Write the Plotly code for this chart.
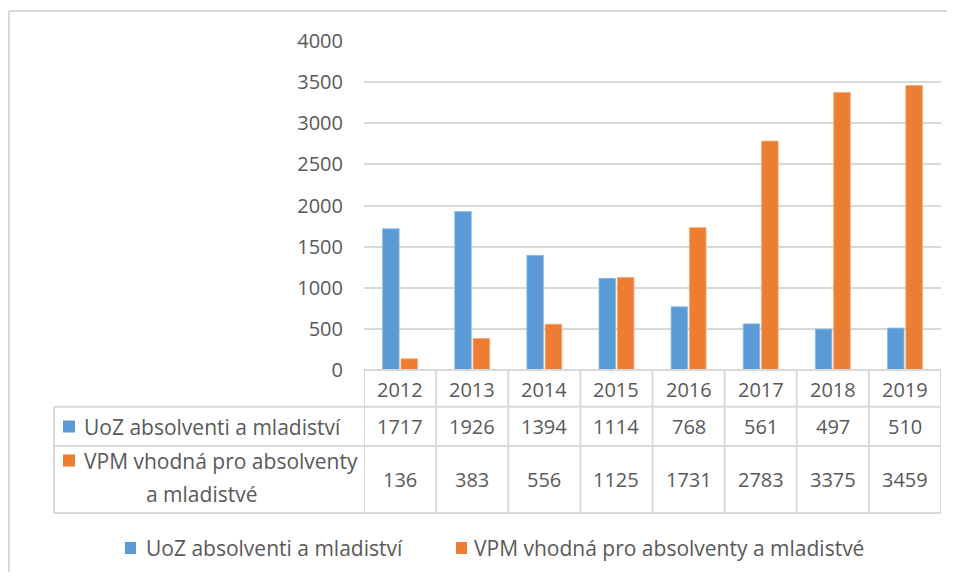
import plotly.graph_objects as go

years = ["2012", "2013", "2014", "2015", "2016", "2017", "2018", "2019"]
uoz = [1717, 1926, 1394, 1114, 768, 561, 497, 510]
vpm = [136, 383, 556, 1125, 1731, 2783, 3375, 3459]
name_uoz = "UoZ absolventi a mladiství"
name_vpm = "VPM vhodná pro absolventy a mladistvé"
y_ticks = [0, 500, 1000, 1500, 2000, 2500, 3000, 3500, 4000]

BLUE = "#5B9BD5"
ORANGE = "#ED7D31"
GRID = "#D9D9D9"
TXT = "#595959"
FONT = "Open Sans"
FS = 20
FS_TXT = 21

OFF = 8  # page body margin
W, H = 955 - 2 * OFF, 580 - 2 * OFF
L, R, T, B = 364 - OFF, 941 - OFF, 41 - OFF, 370 - OFF


def px(x):
    return (x - OFF - L) / (R - L)


def py(y):
    return (B - (y - OFF)) / (B - T)


fig = go.Figure()
fig.add_trace(go.Bar(x=years, y=uoz, name=name_uoz, marker_color=BLUE,
                     marker_line=dict(color="#8DBBE6", width=0.8)))
fig.add_trace(go.Bar(x=years, y=vpm, name=name_vpm, marker_color=ORANGE,
                     marker_line=dict(color="#F4A877", width=0.8)))

shapes = []
line = dict(color=GRID, width=2)
# outer frame (top and left edges visible)
shapes.append(dict(type="line", xref="paper", yref="paper", x0=px(9), x1=px(954),
                   y0=py(11), y1=py(11), line=line))
shapes.append(dict(type="line", xref="paper", yref="paper", x0=px(9), x1=px(9),
                   y0=py(11), y1=py(579), line=line))
# table horizontal lines
row_tops = [370, 406.7, 446, 513]
for i, yy in enumerate(row_tops):
    x0 = 364 if i == 0 else 54
    shapes.append(dict(type="line", xref="paper", yref="paper", x0=px(x0), x1=px(941),
                       y0=py(yy), y1=py(yy), line=line))
# vertical lines
for k in range(len(years) + 1):
    shapes.append(dict(type="line", xref="x", yref="paper", x0=k - 0.5, x1=k - 0.5,
                       y0=py(370), y1=py(513), line=line))
shapes.append(dict(type="line", xref="paper", yref="paper", x0=px(54), x1=px(54),
                   y0=py(406.7), y1=py(513), line=line))
# series keys in table
for (yc, col) in [(426.5, BLUE), (460.5, ORANGE)]:
    shapes.append(dict(type="rect", xref="paper", yref="paper", x0=px(63), x1=px(75),
                       y0=py(yc - 6), y1=py(yc + 6), fillcolor=col, line=dict(width=0)))
# legend keys
for (xl, col) in [(125, BLUE), (456, ORANGE)]:
    shapes.append(dict(type="rect", xref="paper", yref="paper", x0=px(xl), x1=px(xl + 11),
                       y0=py(548 - 6), y1=py(548 + 6), fillcolor=col, line=dict(width=0)))

ann = []


def A(x, y, text, xref="paper", xanchor="center", size=FS):
    ann.append(dict(x=x, y=y, xref=xref, yref="paper", text=text, showarrow=False,
                    xanchor=xanchor, yanchor="middle",
                    font=dict(family=FONT, size=size, color=TXT)))


for i, yr in enumerate(years):
    A(i, py(389), yr, xref="x")
    A(i, py(426.5), str(uoz[i]), xref="x")
    A(i, py(479.5), str(vpm[i]), xref="x")
A(px(82), py(426.5), name_uoz, xanchor="left", size=FS_TXT)
A(px(82), py(460.5), "VPM vhodná pro absolventy", xanchor="left", size=FS_TXT)
A(px(201), py(494), "a mladistvé", size=FS_TXT)
A(px(144), py(548), name_uoz, xanchor="left", size=FS_TXT)
A(px(472), py(548), name_vpm, xanchor="left", size=FS_TXT)

fig.update_layout(
    width=W, height=H,
    margin=dict(l=L, r=W - R, t=T, b=H - B, pad=0),
    paper_bgcolor="rgba(0,0,0,0)", plot_bgcolor="white",
    barmode="group", bargap=0.49, bargroupgap=0.1,
    showlegend=False,
    shapes=shapes, annotations=ann,
    font=dict(family=FONT, size=FS, color=TXT),
    xaxis=dict(type="category", showticklabels=False, showgrid=False, zeroline=False,
               showline=False, ticks="", range=[-0.5, 7.5], fixedrange=True),
    yaxis=dict(range=[0, 4000], tickvals=y_ticks, showgrid=True, gridcolor=GRID, gridwidth=2,
               zeroline=False, showline=False, ticks="", ticklabelstandoff=20,
               tickfont=dict(family=FONT, size=FS, color=TXT), fixedrange=True),
)

fig.write_html("out.html", config={"displayModeBar": False})
